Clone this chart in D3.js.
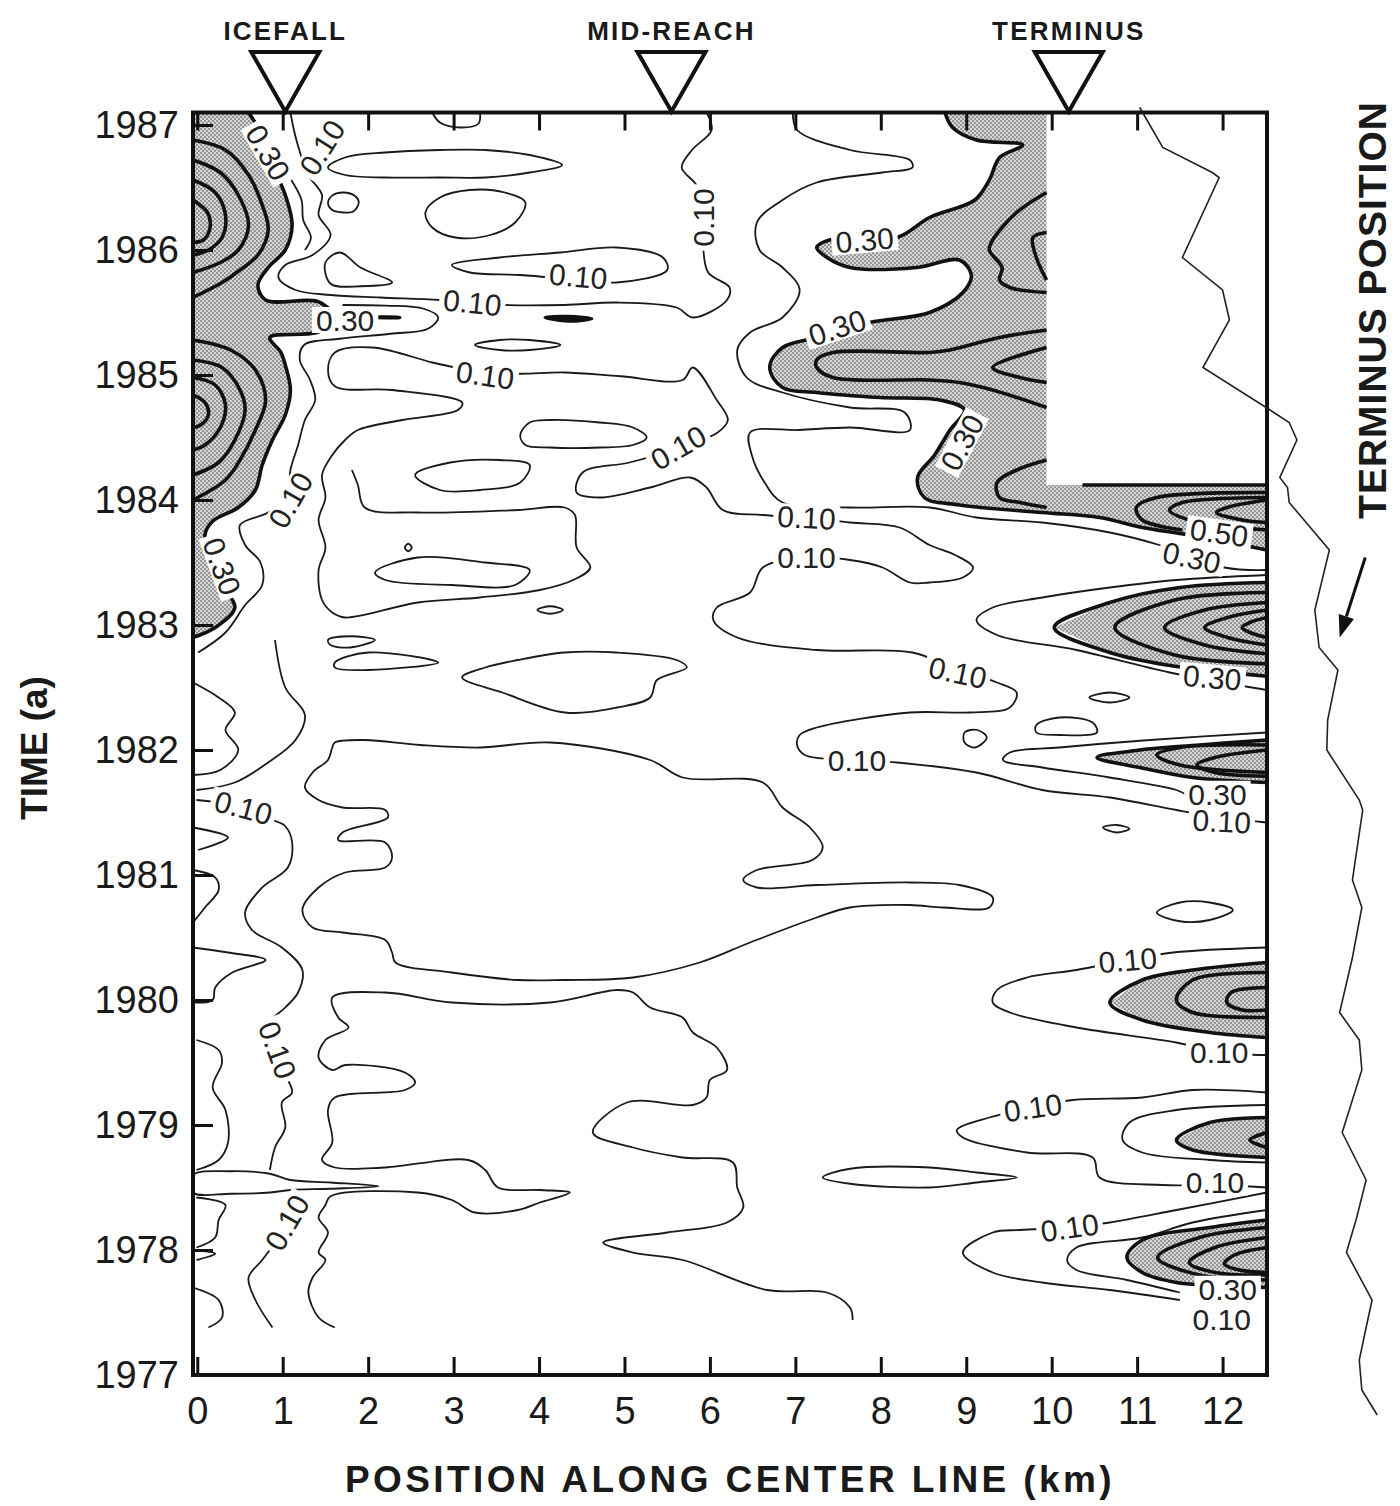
<!DOCTYPE html>
<html>
<head>
<meta charset="utf-8">
<script src="https://cdn.jsdelivr.net/npm/d3@7"></script>
<style>
  body { margin: 0; background: #fff; }
  svg text { font-family: "Liberation Sans", Arial, Helvetica, sans-serif; }
</style>
</head>
<body>
<svg id="chart" width="1400" height="1506"></svg>
<script>
// axis values
const yearTicks = [1977, 1978, 1979, 1980, 1981, 1982, 1983, 1984, 1985, 1986, 1987];
const kmTicks = [0, 1, 2, 3, 4, 5, 6, 7, 8, 9, 10, 11, 12];
const sites = [
  { name: "ICEFALL", km: 1.03 },
  { name: "MID-REACH", km: 5.55 },
  { name: "TERMINUS", km: 10.2 },
];

// terminus position through time (km, year)
const terminusLine = [
  [11.03, 1987.14], [11.3, 1986.82], [11.88, 1986.62], [11.96, 1986.58], [11.53, 1985.94],
  [12.0, 1985.68], [12.08, 1985.44], [11.77, 1985.06], [12.51, 1984.74], [12.78, 1984.62],
  [12.87, 1984.48], [12.67, 1984.18], [12.76, 1984.1], [12.78, 1983.98], [13.25, 1983.6],
  [13.08, 1983.12], [13.13, 1982.82], [13.35, 1982.64], [13.23, 1982.24], [13.22, 1982.0],
  [13.6, 1981.6], [13.64, 1981.52], [13.52, 1980.96], [13.63, 1980.74], [13.52, 1980.34],
  [13.37, 1979.9], [13.6, 1979.68], [13.63, 1979.44], [13.4, 1978.94], [13.68, 1978.56],
  [13.57, 1978.26], [13.45, 1977.98], [13.75, 1977.6], [13.68, 1977.38], [13.6, 1977.12],
  [13.63, 1976.88], [13.81, 1976.68],
];
const terminusArrow = [[13.67, 1983.54], [13.37, 1982.9]];

// ---- shaded areas (strain rate above 0.30)
const icefallShade = [
  [-0.05, 1987.1], [0.6, 1987.1], [0.76, 1986.92], [0.88, 1986.68], [1.03, 1986.44], [1.11, 1986.2],
  [1.03, 1986.0], [0.83, 1985.86], [0.71, 1985.72], [0.8, 1985.6], [1.4, 1985.59], [1.65, 1985.49],
  [2.37, 1985.46], [1.65, 1985.44], [1.4, 1985.34], [0.85, 1985.3], [0.98, 1985.18], [1.03, 1985.08],
  [1.09, 1984.88], [1.03, 1984.68], [0.88, 1984.48], [0.76, 1984.28], [0.68, 1984.08], [0.48, 1983.94],
  [0.18, 1983.83], [0.09, 1983.72], [0.18, 1983.52], [0.29, 1983.32], [0.44, 1983.14], [0.21, 1982.98],
  [-0.05, 1982.9],
];
const terminusShade = [
  [8.75, 1987.1], [9.94, 1987.1], [9.94, 1984.12], [12.52, 1984.12], [12.52, 1983.6], [11.61, 1983.72],
  [11.06, 1983.78], [10.56, 1983.86], [9.89, 1983.9], [8.92, 1983.96], [8.51, 1984.02], [8.43, 1984.18],
  [8.63, 1984.36], [8.81, 1984.56], [8.98, 1984.72], [8.69, 1984.8], [7.99, 1984.82], [7.25, 1984.86],
  [6.85, 1984.9], [6.7, 1985.06], [6.85, 1985.22], [7.25, 1985.3], [7.87, 1985.42], [8.57, 1985.5],
  [8.96, 1985.66], [9.06, 1985.8], [8.92, 1985.92], [8.42, 1985.86], [7.64, 1985.86], [7.37, 1985.94],
  [7.25, 1986.02], [7.4, 1986.08], [8.19, 1986.1], [8.57, 1986.26], [9.1, 1986.4], [9.27, 1986.56],
  [9.39, 1986.74], [9.66, 1986.84], [9.12, 1986.88], [8.84, 1986.98],
];
const shade1983 = [[12.52, 1983.34], [11.5, 1983.3], [10.68, 1983.18], [10.03, 1982.98], [10.68, 1982.78], [11.35, 1982.68], [12.52, 1982.59]];
const shade1982 = [[12.52, 1982.08], [11.73, 1982.04], [11.03, 1982.0], [10.53, 1981.94], [11.03, 1981.86], [11.65, 1981.78], [12.52, 1981.74]];
const shade1980 = [[12.52, 1980.3], [11.65, 1980.24], [11.06, 1980.16], [10.68, 1979.98], [11.06, 1979.84], [11.85, 1979.74], [12.52, 1979.7]];
const shade1979 = [[12.52, 1979.06], [11.85, 1979.02], [11.46, 1978.88], [11.65, 1978.8], [12.52, 1978.74]];
const shade1978 = [[12.52, 1978.24], [11.85, 1978.18], [11.06, 1978.08], [10.88, 1977.94], [11.06, 1977.82], [11.46, 1977.74], [11.85, 1977.72], [12.52, 1977.7]];

// ---- heavy contours inside shaded areas
const icefallArcs = [
  [[-0.05, 1986.88], [0.33, 1986.8], [0.6, 1986.6], [0.76, 1986.36], [0.83, 1986.16], [0.71, 1985.96], [0.5, 1985.84], [0.29, 1985.74], [-0.05, 1985.62]],
  [[-0.05, 1986.72], [0.27, 1986.62], [0.48, 1986.44], [0.6, 1986.2], [0.48, 1986.0], [0.27, 1985.9], [-0.05, 1985.82]],
  [[-0.05, 1986.56], [0.21, 1986.46], [0.33, 1986.28], [0.29, 1986.1], [0.13, 1986.0], [-0.05, 1985.96]],
  [[-0.05, 1986.4], [0.12, 1986.3], [0.15, 1986.18], [0.07, 1986.08], [-0.05, 1986.06]],
  [[-0.05, 1985.28], [0.39, 1985.2], [0.68, 1985.04], [0.8, 1984.8], [0.68, 1984.56], [0.5, 1984.32], [0.33, 1984.16], [-0.05, 1984.0]],
  [[-0.05, 1985.12], [0.29, 1985.06], [0.5, 1984.88], [0.56, 1984.72], [0.44, 1984.48], [0.25, 1984.3], [-0.05, 1984.2]],
  [[-0.05, 1984.98], [0.21, 1984.92], [0.33, 1984.76], [0.27, 1984.58], [0.09, 1984.44], [-0.05, 1984.4]],
  [[-0.05, 1984.84], [0.09, 1984.78], [0.13, 1984.68], [0.04, 1984.6], [-0.05, 1984.58]],
];
const terminusInner = [
  [[9.94, 1986.46], [9.59, 1986.3], [9.31, 1986.08], [9.27, 1986.0], [9.42, 1985.86], [9.39, 1985.76], [9.51, 1985.7], [9.94, 1985.66]],
  [[9.94, 1986.14], [9.78, 1986.1], [9.82, 1985.94], [9.94, 1985.76]],
  [[9.94, 1985.36], [9.39, 1985.3], [8.81, 1985.2], [8.57, 1985.18], [7.44, 1985.18], [7.25, 1985.12], [7.25, 1985.06], [7.44, 1984.98], [8.57, 1984.96], [8.92, 1984.94], [9.31, 1984.88], [9.94, 1984.74]],
  [[9.94, 1985.22], [9.31, 1985.06], [9.63, 1984.98], [9.94, 1984.94]],
  [[9.94, 1984.32], [9.59, 1984.24], [9.36, 1984.14], [9.39, 1984.02], [9.63, 1983.98], [9.94, 1983.94]],
  [[10.36, 1984.12], [12.52, 1984.12]],
  [[12.52, 1984.06], [11.23, 1984.02], [10.99, 1983.94], [11.06, 1983.84], [11.53, 1983.76]],
  [[12.52, 1984.02], [11.53, 1983.98], [11.38, 1983.92], [11.61, 1983.84], [12.52, 1983.76]],
  [[12.52, 1984.0], [12.05, 1983.94], [11.93, 1983.9], [12.23, 1983.84], [12.52, 1983.82]],
];
const chevrons1983 = [
  [[12.52, 1983.26], [11.44, 1983.2], [10.74, 1982.98], [11.44, 1982.76], [12.52, 1982.69]],
  [[12.52, 1983.18], [11.79, 1983.12], [11.32, 1982.98], [11.79, 1982.84], [12.52, 1982.77]],
  [[12.52, 1983.12], [12.06, 1983.06], [11.79, 1982.98], [12.06, 1982.9], [12.52, 1982.84]],
  [[12.52, 1983.06], [12.32, 1983.02], [12.23, 1982.98], [12.32, 1982.94], [12.52, 1982.9]],
];
const chevrons1982 = [
  [[12.52, 1982.04], [11.5, 1982.02], [11.23, 1981.96], [11.5, 1981.88], [12.52, 1981.82]],
  [[12.52, 1982.0], [11.91, 1981.94], [11.7, 1981.88], [11.91, 1981.82], [12.52, 1981.79]],
];
const chevrons1980 = [
  [[12.52, 1980.22], [11.65, 1980.16], [11.46, 1980.0], [11.65, 1979.9], [12.52, 1979.86]],
  [[12.52, 1980.1], [12.1, 1980.06], [12.05, 1979.98], [12.23, 1979.92], [12.52, 1979.92]],
];
const chevrons1979 = [
  [[12.52, 1978.94], [12.32, 1978.88], [12.52, 1978.82]],
];
const chevrons1978 = [
  [[12.52, 1978.18], [11.73, 1978.1], [11.24, 1977.94], [11.73, 1977.8], [12.52, 1977.76]],
  [[12.52, 1978.1], [11.91, 1978.02], [11.61, 1977.9], [11.91, 1977.82], [12.52, 1977.8]],
  [[12.52, 1978.02], [12.14, 1977.96], [12.02, 1977.89], [12.2, 1977.84], [12.52, 1977.82]],
];
const heavySliver = [[4.07, 1985.46], [4.34, 1985.47], [4.62, 1985.45], [4.34, 1985.43]];

// ---- light (0.10) contours, open
const upperIcefallLine = [
  [5.96, 1987.1], [6.02, 1986.96], [5.79, 1986.8], [5.67, 1986.66], [5.82, 1986.54], [5.92, 1986.44],
  [5.92, 1986.04], [5.98, 1985.82], [6.23, 1985.7], [6.2, 1985.6], [5.8, 1985.46], [5.61, 1985.54],
  [4.91, 1985.58], [4.3, 1985.56], [3.6, 1985.56], [2.84, 1985.6], [2.14, 1985.62], [1.56, 1985.64],
  [1.15, 1985.68], [0.95, 1985.78], [1.03, 1985.88], [1.35, 1985.96], [1.56, 1986.12], [1.42, 1986.28],
  [1.46, 1986.44], [1.3, 1986.6], [1.16, 1986.88], [1.09, 1987.1],
];
const icefallInnerLine = [[1.1, 1986.56], [1.22, 1986.4], [1.24, 1986.24], [1.33, 1986.1], [1.26, 1986.0]];
const tongueLine = [
  [1.7, 1985.56], [2.2, 1985.555], [2.65, 1985.53], [2.82, 1985.46], [2.7, 1985.37], [2.26, 1985.33],
  [1.67, 1985.29], [1.25, 1985.24], [1.2, 1985.12], [1.32, 1984.96], [1.38, 1984.8], [1.26, 1984.64],
  [1.18, 1984.44], [1.09, 1984.24], [1.06, 1984.04], [0.83, 1983.9], [0.5, 1983.8], [0.56, 1983.64],
  [0.74, 1983.5], [0.76, 1983.32], [0.56, 1983.16], [0.33, 1982.94], [0.01, 1982.78],
];
const longLine = [
  [1.81, 1984.24], [1.88, 1984.12], [1.96, 1983.94], [2.58, 1983.9], [3.75, 1983.92], [4.3, 1983.94],
  [4.42, 1983.88], [4.44, 1983.62], [4.6, 1983.46], [4.4, 1983.36], [4.01, 1983.28], [3.31, 1983.22],
  [2.58, 1983.18], [1.73, 1983.06], [1.58, 1983.1], [1.46, 1983.2], [1.42, 1983.44], [1.5, 1983.62],
  [1.42, 1983.84], [1.5, 1984.02], [1.46, 1984.2], [1.58, 1984.36], [1.73, 1984.48], [1.88, 1984.56],
  [2.4, 1984.64], [3.05, 1984.72], [3.1, 1984.78], [2.28, 1984.88], [1.61, 1984.91], [1.53, 1985.04],
  [1.61, 1985.18], [2.05, 1985.22], [2.75, 1985.1], [3.02, 1985.06], [3.37, 1985.02], [3.78, 1985.01],
  [4.3, 1985.02], [4.95, 1984.99], [5.68, 1984.96], [5.8, 1985.06], [6.08, 1984.8], [6.21, 1984.64],
  [6.09, 1984.54], [5.65, 1984.42], [5.06, 1984.3], [4.51, 1984.22], [4.44, 1984.06], [4.71, 1984.02],
  [5.3, 1984.1], [5.77, 1984.18], [5.96, 1984.1], [6.15, 1983.92], [6.62, 1983.88], [7.13, 1983.86],
  [7.64, 1983.82], [8.22, 1983.78], [8.57, 1983.64], [8.87, 1983.56], [9.08, 1983.46], [8.96, 1983.38],
  [8.57, 1983.34], [8.34, 1983.34], [8.02, 1983.46], [7.64, 1983.52], [7.13, 1983.54], [6.62, 1983.46],
  [6.47, 1983.26], [6.08, 1983.14], [6.04, 1983.04], [6.32, 1982.9], [7.25, 1982.8], [8.37, 1982.78],
  [8.9, 1982.64], [9.36, 1982.54], [9.59, 1982.46], [9.51, 1982.34], [9.04, 1982.3], [8.34, 1982.3],
  [7.25, 1982.18], [7.05, 1982.12], [7.02, 1982.04], [7.11, 1981.96], [7.7, 1981.92], [8.19, 1981.9],
  [9.12, 1981.82], [9.89, 1981.68], [10.68, 1981.62], [11.46, 1981.52], [11.99, 1981.46], [12.52, 1981.42],
];
const terminusLine10 = [
  [6.97, 1987.1], [7.02, 1986.96], [7.64, 1986.8], [8.34, 1986.72], [8.37, 1986.66], [8.02, 1986.62],
  [7.25, 1986.54], [6.85, 1986.4], [6.55, 1986.22], [6.58, 1986.0], [6.85, 1985.86], [7.05, 1985.68],
  [6.85, 1985.46], [6.47, 1985.34], [6.32, 1985.2], [6.43, 1984.98], [6.85, 1984.86], [7.64, 1984.74],
  [8.28, 1984.7], [8.34, 1984.56], [7.64, 1984.58], [7.05, 1984.56], [6.47, 1984.54], [6.49, 1984.36],
  [6.64, 1984.14], [6.85, 1983.98], [7.64, 1983.94], [8.57, 1983.94], [9.12, 1983.86], [9.89, 1983.82],
  [10.68, 1983.74], [11.26, 1983.64], [12.02, 1983.46], [12.52, 1983.44],
];
const leftLineUpper = [
  [-0.01, 1981.6], [0.39, 1981.56], [0.88, 1981.44], [1.03, 1981.39], [1.11, 1981.26], [1.06, 1981.06],
  [0.76, 1980.9], [0.56, 1980.7], [0.64, 1980.56], [0.99, 1980.42], [1.23, 1980.24], [1.18, 1980.06],
  [1.03, 1979.94], [0.85, 1979.82], [0.88, 1979.6], [1.03, 1979.4], [1.11, 1979.26], [0.99, 1979.18],
  [1.03, 1978.98], [0.91, 1978.82], [0.85, 1978.64],
];
const leftLineLower = [[1.2, 1978.44], [1.09, 1978.28], [0.97, 1978.12], [0.76, 1977.92], [0.6, 1977.78], [0.68, 1977.6], [0.88, 1977.38]];
const lowerBand = [
  [7.67, 1977.44], [7.64, 1977.54], [7.37, 1977.66], [6.67, 1977.68], [5.68, 1977.92], [5.1, 1977.98],
  [4.75, 1978.06], [5.5, 1978.14], [6.2, 1978.22], [6.39, 1978.34], [6.32, 1978.5], [6.27, 1978.7],
  [5.68, 1978.74], [5.1, 1978.82], [4.63, 1978.94], [5.03, 1979.18], [5.8, 1979.16], [5.96, 1979.22],
  [6.0, 1979.36], [6.2, 1979.44], [6.08, 1979.62], [5.8, 1979.74], [5.68, 1979.86], [5.3, 1979.94],
  [5.1, 1980.06], [4.91, 1980.08], [4.13, 1979.98], [2.98, 1979.98], [2.2, 1980.06], [1.58, 1980.02],
  [1.65, 1979.86], [1.77, 1979.78], [1.5, 1979.68], [1.42, 1979.54], [1.58, 1979.44], [1.73, 1979.48],
  [2.43, 1979.42], [2.55, 1979.34], [2.43, 1979.28], [1.61, 1979.22], [1.53, 1979.12], [1.58, 1978.86],
  [1.46, 1978.72], [1.61, 1978.66], [2.2, 1978.66], [3.17, 1978.72], [3.37, 1978.64], [3.52, 1978.5],
  [4.01, 1978.48], [4.36, 1978.46], [4.01, 1978.38], [3.75, 1978.32], [3.25, 1978.3], [2.98, 1978.4],
  [2.58, 1978.46], [1.56, 1978.43], [1.5, 1978.36], [1.42, 1978.26], [1.53, 1978.14], [1.42, 1977.98],
  [1.5, 1977.92], [1.35, 1977.78], [1.3, 1977.66], [1.42, 1977.46], [1.61, 1977.38],
];
const edgeLines = [
  [[0.91, 1982.88], [1.03, 1982.5], [1.26, 1982.28], [1.15, 1982.08], [0.83, 1981.9], [0.44, 1981.74], [-0.01, 1981.68]],
  [[-0.05, 1982.54], [0.25, 1982.42], [0.44, 1982.3], [0.33, 1982.16], [0.48, 1982.0], [0.27, 1981.84], [-0.05, 1981.8]],
  [[-0.05, 1981.38], [0.36, 1981.3], [0.01, 1981.2]],
  [[-0.05, 1981.04], [0.21, 1980.98], [0.25, 1980.88], [0.09, 1980.74], [-0.05, 1980.62]],
  [[-0.05, 1980.42], [0.36, 1980.38], [0.8, 1980.32], [0.41, 1980.22], [0.21, 1980.1], [0.18, 1980.0], [-0.05, 1979.98]],
  [[-0.01, 1979.68], [0.25, 1979.6], [0.29, 1979.5], [0.18, 1979.3], [0.33, 1979.12], [0.36, 1978.86], [0.25, 1978.72], [-0.01, 1978.64]],
  [[-0.01, 1978.42], [0.33, 1978.36], [0.25, 1978.24], [0.21, 1978.1], [-0.01, 1978.02]],
  [[-0.05, 1978.0], [0.21, 1977.97], [-0.01, 1977.92]],
  [[-0.05, 1977.7], [0.25, 1977.6], [0.29, 1977.46], [0.13, 1977.38]],
  [[2.75, 1987.1], [2.84, 1987.02], [3.08, 1986.98], [3.29, 1987.01], [3.31, 1987.1]],
];
const rightLines = [
  [[12.52, 1983.4], [11.46, 1983.36], [10.68, 1983.3], [9.89, 1983.22], [9.31, 1983.14], [9.12, 1983.04], [9.36, 1982.92], [10.29, 1982.8], [11.38, 1982.62], [12.52, 1982.48]],
  [[12.52, 1982.14], [11.15, 1982.08], [10.09, 1982.02], [9.51, 1981.98], [9.43, 1981.92], [9.89, 1981.86], [10.68, 1981.78], [11.46, 1981.68], [11.58, 1981.64]],
  [[12.52, 1980.42], [11.42, 1980.38], [10.88, 1980.32], [10.29, 1980.24], [9.71, 1980.18], [9.36, 1980.08], [9.31, 1979.98], [9.51, 1979.9], [10.29, 1979.78], [11.46, 1979.66], [11.96, 1979.58], [12.52, 1979.56]],
  [[12.52, 1979.26], [11.65, 1979.28], [11.06, 1979.22], [10.25, 1979.2], [9.78, 1979.14], [9.27, 1979.06], [8.89, 1978.96], [8.96, 1978.9], [9.71, 1978.78], [10.48, 1978.74], [10.56, 1978.58], [11.3, 1978.52], [11.91, 1978.52], [12.52, 1978.5]],
  [[12.52, 1979.16], [11.46, 1979.12], [10.91, 1979.02], [10.83, 1978.88], [11.06, 1978.78], [11.85, 1978.72], [12.52, 1978.7]],
  [[12.52, 1978.46], [11.46, 1978.32], [10.68, 1978.22], [10.22, 1978.18], [9.63, 1978.16], [9.31, 1978.14], [8.96, 1977.98], [9.31, 1977.82], [9.89, 1977.74], [10.68, 1977.68], [11.5, 1977.6]],
  [[12.52, 1978.32], [11.65, 1978.22], [11.06, 1978.1], [10.29, 1978.02], [10.18, 1977.92], [10.29, 1977.84], [10.88, 1977.76], [11.5, 1977.66]],
];

// ---- light contours, closed loops
const centralLoop = [
  [1.61, 1982.06], [1.96, 1982.08], [2.61, 1982.04], [3.31, 1982.02], [4.13, 1982.06], [5.3, 1981.92],
  [5.68, 1981.78], [6.62, 1981.74], [6.85, 1981.54], [7.17, 1981.38], [7.32, 1981.22], [7.2, 1981.12],
  [6.55, 1981.04], [6.39, 1980.96], [6.55, 1980.9], [7.25, 1980.92], [8.34, 1980.94], [8.92, 1980.92],
  [9.31, 1980.82], [9.27, 1980.74], [8.73, 1980.74], [8.34, 1980.76], [7.64, 1980.74], [7.25, 1980.66],
  [6.47, 1980.46], [5.88, 1980.3], [5.1, 1980.18], [4.3, 1980.16], [3.75, 1980.16], [2.98, 1980.22],
  [2.32, 1980.3], [2.28, 1980.38], [2.2, 1980.48], [1.7, 1980.54], [1.35, 1980.58], [1.23, 1980.72],
  [1.42, 1980.9], [1.73, 1981.02], [2.2, 1981.06], [2.28, 1981.14], [2.2, 1981.26], [1.65, 1981.28],
  [1.7, 1981.34], [2.23, 1981.46], [2.2, 1981.52], [1.7, 1981.54], [1.42, 1981.6], [1.26, 1981.7],
  [1.35, 1981.82], [1.53, 1981.92], [1.58, 1982.02],
];
const needleLoop = [[-0.05, 1978.6], [0.39, 1978.63], [0.85, 1978.61], [1.09, 1978.56], [1.56, 1978.54], [2.12, 1978.51], [1.56, 1978.49], [1.09, 1978.48], [0.85, 1978.46], [0.39, 1978.45], [-0.05, 1978.46]];
const loops = [
  [[1.53, 1986.66], [1.73, 1986.74], [2.2, 1986.78], [2.84, 1986.8], [3.37, 1986.8], [3.89, 1986.76], [4.27, 1986.68], [3.89, 1986.62], [3.37, 1986.58], [2.84, 1986.58], [2.2, 1986.58], [1.73, 1986.6]],
  [[1.53, 1986.38], [1.59, 1986.44], [1.71, 1986.46], [1.85, 1986.43], [1.89, 1986.38], [1.83, 1986.31], [1.71, 1986.3], [1.58, 1986.32]],
  [[2.67, 1986.3], [2.84, 1986.42], [3.19, 1986.48], [3.6, 1986.46], [3.84, 1986.38], [3.72, 1986.22], [3.43, 1986.12], [3.02, 1986.1], [2.75, 1986.18]],
  [[1.5, 1985.9], [1.67, 1985.98], [1.91, 1985.86], [2.28, 1985.74], [1.91, 1985.71], [1.56, 1985.73]],
  [[2.98, 1985.88], [3.54, 1985.94], [4.25, 1985.98], [4.91, 1986.02], [5.45, 1985.94], [5.5, 1985.84], [4.91, 1985.74], [4.48, 1985.76], [3.78, 1985.8], [3.19, 1985.82]],
  [[3.25, 1985.24], [3.54, 1985.28], [3.89, 1985.28], [4.25, 1985.24], [3.89, 1985.2], [3.54, 1985.2]],
  [[3.78, 1984.52], [3.89, 1984.62], [4.13, 1984.64], [4.71, 1984.62], [5.1, 1984.58], [5.26, 1984.5], [5.1, 1984.44], [4.71, 1984.42], [4.13, 1984.42], [3.84, 1984.44]],
  [[2.55, 1984.2], [2.96, 1984.3], [3.54, 1984.32], [3.89, 1984.28], [3.78, 1984.14], [3.31, 1984.08], [2.84, 1984.08]],
  [[2.08, 1983.42], [2.58, 1983.54], [3.37, 1983.5], [3.89, 1983.44], [3.72, 1983.32], [2.98, 1983.32], [2.2, 1983.36]],
  [[2.43, 1983.62], [2.47, 1983.65], [2.51, 1983.62], [2.47, 1983.59]],
  [[3.98, 1983.12], [4.13, 1983.15], [4.28, 1983.12], [4.13, 1983.09]],
  [[1.53, 1982.88], [1.79, 1982.91], [2.08, 1982.88], [1.79, 1982.82], [1.56, 1982.84]],
  [[1.61, 1982.7], [2.0, 1982.78], [2.82, 1982.7], [2.0, 1982.64], [1.61, 1982.66]],
  [[3.1, 1982.58], [3.37, 1982.66], [3.75, 1982.72], [4.3, 1982.78], [4.91, 1982.78], [5.61, 1982.72], [5.73, 1982.66], [5.38, 1982.56], [5.3, 1982.42], [4.91, 1982.34], [4.3, 1982.3], [3.57, 1982.46]],
  [[10.44, 1982.42], [10.68, 1982.46], [10.91, 1982.42], [10.68, 1982.38]],
  [[9.82, 1982.2], [10.09, 1982.26], [10.48, 1982.22], [10.53, 1982.14], [10.09, 1982.12], [9.82, 1982.14]],
  [[8.98, 1982.14], [9.13, 1982.16], [9.24, 1982.1], [9.1, 1982.02], [8.98, 1982.06]],
  [[10.6, 1981.38], [10.76, 1981.4], [10.91, 1981.37], [10.76, 1981.34]],
  [[11.23, 1980.7], [11.5, 1980.78], [11.85, 1980.78], [12.12, 1980.72], [11.85, 1980.64], [11.5, 1980.63]],
  [[7.32, 1978.58], [7.64, 1978.65], [8.57, 1978.66], [9.12, 1978.62], [9.59, 1978.58], [9.12, 1978.54], [8.57, 1978.5], [7.64, 1978.53]],
];

// contour labels: text, km, year, angle
const contourLabels = [
  ["0.30", 0.83, 1986.78, 60], ["0.10", 1.46, 1986.82, -58], ["0.30", 1.73, 1985.44, 0],
  ["0.10", 3.22, 1985.58, 6], ["0.10", 4.46, 1985.79, 5], ["0.10", 5.92, 1986.26, -90],
  ["0.10", 3.37, 1985.0, 8], ["0.30", 7.81, 1986.08, -5], ["0.30", 7.49, 1985.38, -18],
  ["0.30", 8.95, 1984.46, -62], ["0.10", 5.63, 1984.42, -30], ["0.10", 1.09, 1984.0, -60],
  ["0.30", 0.29, 1983.47, 70], ["0.10", 7.13, 1983.86, 3], ["0.10", 7.13, 1983.54, 0],
  ["0.50", 11.96, 1983.74, 8], ["0.30", 11.64, 1983.54, 12], ["0.10", 8.9, 1982.62, 12],
  ["0.30", 11.88, 1982.58, 5], ["0.10", 7.72, 1981.92, 0], ["0.30", 11.94, 1981.65, 0],
  ["0.10", 11.99, 1981.43, 3], ["0.10", 0.54, 1981.54, 15], ["0.10", 0.94, 1979.6, 70],
  ["0.10", 10.89, 1980.32, -5], ["0.10", 11.96, 1979.58, 0], ["0.10", 9.78, 1979.14, -8],
  ["0.10", 11.91, 1978.54, 0], ["0.10", 1.05, 1978.22, -60], ["0.10", 10.21, 1978.18, -8],
  ["0.30", 12.06, 1977.69, 0], ["0.10", 11.99, 1977.45, 0],
];

const xTitle = "POSITION ALONG CENTER LINE (km)";
const yTitle = "TIME (a)";
const sideTitle = "TERMINUS POSITION";

// ---------------------------------------------------------------
const svg = d3.select("#chart");
const plot = { left: 193, right: 1267, top: 112.5, bottom: 1375 };
const ink = "#1a1a1a";

const x = d3.scaleLinear().domain([-0.05, 12.52]).range([plot.left, plot.right]);
const y = d3.scaleLinear().domain([1977, 1987.1]).range([plot.bottom, plot.top]);

const defs = svg.append("defs");
defs.append("clipPath").attr("id", "plotClip")
  .append("rect")
  .attr("x", plot.left).attr("y", plot.top)
  .attr("width", plot.right - plot.left).attr("height", plot.bottom - plot.top);

// halftone screen like the printed figure
const pat = defs.append("pattern").attr("id", "halftone")
  .attr("width", 4).attr("height", 4).attr("patternUnits", "userSpaceOnUse");
pat.append("rect").attr("width", 4).attr("height", 4).attr("fill", "#d6d6d6");
pat.append("circle").attr("cx", 1).attr("cy", 1).attr("r", 0.95).attr("fill", "#7a7a7a");
pat.append("circle").attr("cx", 3).attr("cy", 3).attr("r", 0.95).attr("fill", "#7a7a7a");

const smooth = d3.line().x((d) => x(d[0])).y((d) => y(d[1])).curve(d3.curveCatmullRom.alpha(0.5));
const smoothClosed = d3.line().x((d) => x(d[0])).y((d) => y(d[1])).curve(d3.curveCatmullRomClosed.alpha(0.5));
const polygon = d3.line().x((d) => x(d[0])).y((d) => y(d[1])).curve(d3.curveLinearClosed);
const straight = d3.line().x((d) => x(d[0])).y((d) => y(d[1]));

const field = svg.append("g").attr("clip-path", "url(#plotClip)");

// shaded regions
const shades = [icefallShade, terminusShade, shade1983, shade1982, shade1980, shade1979, shade1978];
field.selectAll("path.shade")
  .data(shades)
  .join("path")
  .attr("class", "shade")
  .attr("d", polygon)
  .attr("fill", "url(#halftone)");

// light contours
const thinOpen = [upperIcefallLine, icefallInnerLine, tongueLine, longLine, terminusLine10,
  leftLineUpper, leftLineLower, lowerBand, ...edgeLines, ...rightLines];
field.selectAll("path.thin")
  .data(thinOpen)
  .join("path")
  .attr("class", "thin")
  .attr("d", smooth)
  .attr("fill", "none")
  .attr("stroke", ink)
  .attr("stroke-width", 1.8)
  .attr("stroke-linejoin", "round");

field.selectAll("path.thinLoop")
  .data([centralLoop, needleLoop, ...loops])
  .join("path")
  .attr("class", "thinLoop")
  .attr("d", smoothClosed)
  .attr("fill", "none")
  .attr("stroke", ink)
  .attr("stroke-width", 1.8);

// heavy contours: shade outlines and inner levels
const heavyOpen = [
  icefallShade.slice(1),
  terminusShade.slice(4).concat([terminusShade[0]]),
  shade1983, shade1982, shade1980, shade1979, shade1978,
  ...icefallArcs, ...terminusInner, ...chevrons1983, ...chevrons1982,
  ...chevrons1980, ...chevrons1979, ...chevrons1978,
];
field.selectAll("path.heavy")
  .data(heavyOpen)
  .join("path")
  .attr("class", "heavy")
  .attr("d", smooth)
  .attr("fill", "none")
  .attr("stroke", "#111")
  .attr("stroke-width", 3.6)
  .attr("stroke-linejoin", "round");

field.append("path")
  .attr("d", smoothClosed(heavySliver))
  .attr("fill", "#111")
  .attr("stroke", "#111")
  .attr("stroke-width", 3);

// contour labels on a white patch that breaks the line
const labelG = field.selectAll("g.clabel")
  .data(contourLabels)
  .join("g")
  .attr("class", "clabel")
  .attr("transform", (d) => `translate(${x(d[1])},${y(d[2])}) rotate(${d[3]})`);
labelG.append("text")
  .attr("text-anchor", "middle")
  .attr("dy", "0.36em")
  .attr("font-size", 30)
  .attr("fill", "#222")
  .text((d) => d[0]);
labelG.each(function () {
  const g = d3.select(this);
  const w = g.select("text").node().getComputedTextLength();
  g.insert("rect", "text")
    .attr("x", -w / 2 - 4)
    .attr("y", -13)
    .attr("width", w + 8)
    .attr("height", 26)
    .attr("fill", "#fff");
});

// axes (ticks point into the frame)
const yAxis = svg.append("g")
  .attr("transform", `translate(${plot.left},0)`)
  .call(d3.axisLeft(y).tickValues(yearTicks).tickSize(-20).tickPadding(14).tickFormat(d3.format("d")));
const xAxis = svg.append("g")
  .attr("transform", `translate(0,${plot.bottom})`)
  .call(d3.axisBottom(x).tickValues(kmTicks).tickSize(-18).tickPadding(22));
const topAxis = svg.append("g")
  .attr("transform", `translate(0,${plot.top})`)
  .call(d3.axisTop(x).tickValues(kmTicks).tickSize(-18).tickFormat(() => ""));

[yAxis, xAxis, topAxis].forEach((a) => {
  a.select(".domain").remove();
  a.selectAll(".tick line").attr("stroke", "#111").attr("stroke-width", 3);
  a.selectAll(".tick text")
    .attr("font-size", 38)
    .attr("fill", ink)
    .attr("font-family", "'Liberation Sans', Arial, sans-serif");
});

// frame
svg.append("rect")
  .attr("x", plot.left).attr("y", plot.top)
  .attr("width", plot.right - plot.left).attr("height", plot.bottom - plot.top)
  .attr("fill", "none")
  .attr("stroke", "#111")
  .attr("stroke-width", 4);

// site markers above the frame
const site = svg.selectAll("g.site").data(sites).join("g").attr("class", "site");
site.append("path")
  .attr("d", (d) => `M${x(d.km) - 34},52 L${x(d.km) + 34},52 L${x(d.km)},${plot.top - 1} Z`)
  .attr("fill", "#fff")
  .attr("stroke", "#111")
  .attr("stroke-width", 4)
  .attr("stroke-linejoin", "miter");
site.append("text")
  .attr("x", (d) => x(d.km))
  .attr("y", 40)
  .attr("text-anchor", "middle")
  .attr("font-size", 26)
  .attr("font-weight", "bold")
  .attr("letter-spacing", 2.2)
  .attr("fill", ink)
  .text((d) => d.name);

// terminus position trace and arrow
svg.append("path")
  .attr("d", straight(terminusLine))
  .attr("fill", "none")
  .attr("stroke", "#222")
  .attr("stroke-width", 1.6);

const a0 = [x(terminusArrow[0][0]), y(terminusArrow[0][1])];
const a1 = [x(terminusArrow[1][0]), y(terminusArrow[1][1])];
const ang = Math.atan2(a1[1] - a0[1], a1[0] - a0[0]);
const head = 22, half = 8;
const hb = [a1[0] - head * Math.cos(ang), a1[1] - head * Math.sin(ang)];
svg.append("line")
  .attr("x1", a0[0]).attr("y1", a0[1]).attr("x2", hb[0]).attr("y2", hb[1])
  .attr("stroke", "#111").attr("stroke-width", 3);
svg.append("path")
  .attr("d", `M${a1[0]},${a1[1]} L${hb[0] + half * Math.sin(ang)},${hb[1] - half * Math.cos(ang)} L${hb[0] - half * Math.sin(ang)},${hb[1] + half * Math.cos(ang)} Z`)
  .attr("fill", "#111");

svg.append("text")
  .attr("transform", "translate(1386,310) rotate(-90)")
  .attr("text-anchor", "middle")
  .attr("font-size", 39)
  .attr("font-weight", "bold")
  .attr("letter-spacing", 1)
  .attr("fill", ink)
  .text(sideTitle);

// axis titles
svg.append("text")
  .attr("x", 730)
  .attr("y", 1492)
  .attr("text-anchor", "middle")
  .attr("font-size", 37)
  .attr("font-weight", "bold")
  .attr("letter-spacing", 3.4)
  .attr("fill", ink)
  .text(xTitle);

svg.append("text")
  .attr("transform", "translate(47,748) rotate(-90)")
  .attr("text-anchor", "middle")
  .attr("font-size", 37)
  .attr("font-weight", "bold")
  .attr("fill", ink)
  .text(yTitle);
</script>
</body>
</html>
